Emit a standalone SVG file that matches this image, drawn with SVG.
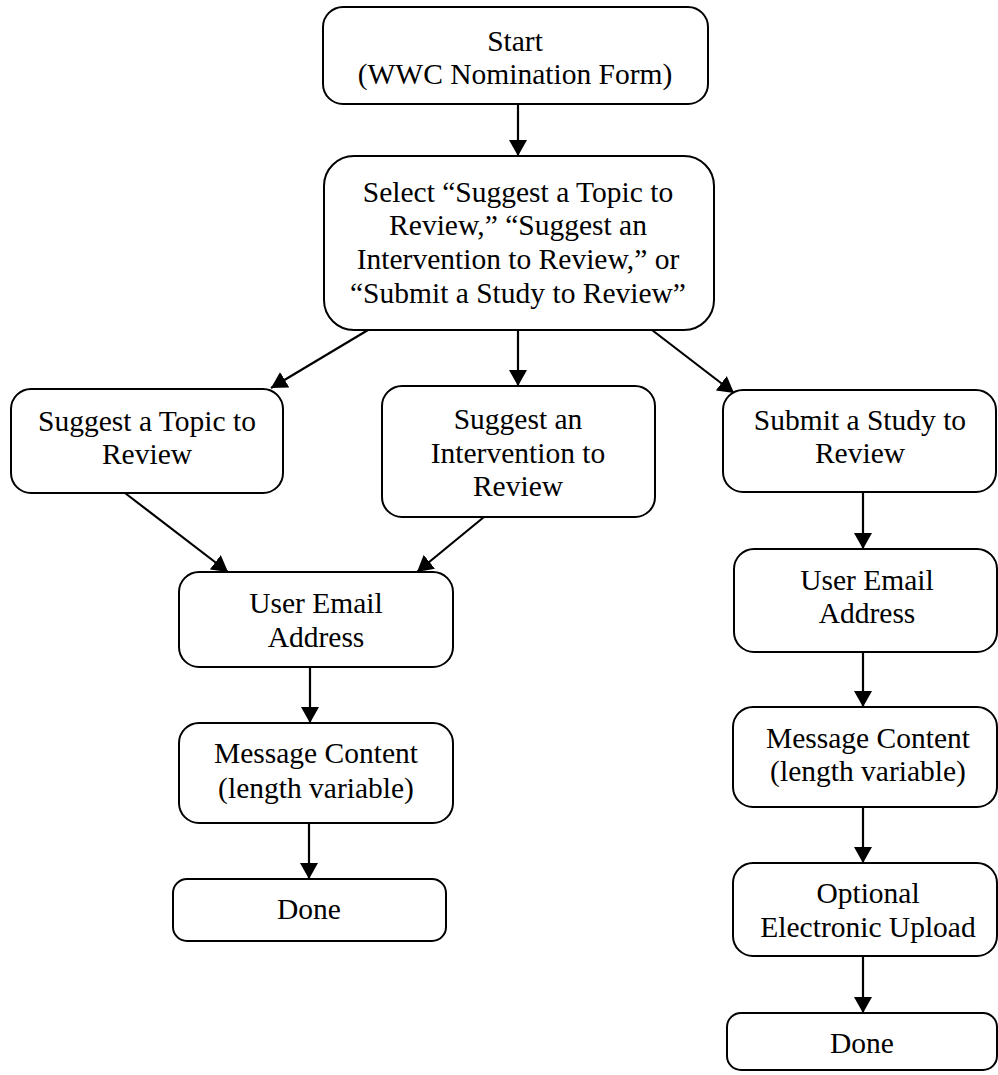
<svg xmlns="http://www.w3.org/2000/svg" width="998" height="1075" viewBox="0 0 998 1075">
<style>
.box{fill:#fff;stroke:#000;stroke-width:2}
.t{font-family:"Liberation Serif","Times New Roman",serif;font-size:29.5px;fill:#000;text-anchor:middle}
.c{stroke:#000;stroke-width:2.2;fill:none;marker-end:url(#ah)}
</style>
<defs>
<marker id="ah" markerUnits="userSpaceOnUse" markerWidth="17" markerHeight="18" refX="16" refY="9" orient="auto">
<path d="M0,0 L16,9 L0,18 Z" fill="#000"/>
</marker>
</defs>
<rect width="998" height="1075" fill="#fff"/>
<g id="connectors">
<line class="c" x1="518" y1="104" x2="518" y2="156"/>
<line class="c" x1="368" y1="330" x2="271" y2="388"/>
<line class="c" x1="518" y1="330" x2="518" y2="386"/>
<line class="c" x1="652" y1="330" x2="734" y2="393"/>
<line class="c" x1="125" y1="493" x2="228" y2="572"/>
<line class="c" x1="484" y1="517" x2="417" y2="572"/>
<line class="c" x1="310" y1="667" x2="310" y2="723"/>
<line class="c" x1="309" y1="823" x2="309" y2="879"/>
<line class="c" x1="863" y1="492" x2="863" y2="549"/>
<line class="c" x1="863" y1="652" x2="863" y2="707"/>
<line class="c" x1="863" y1="807" x2="863" y2="863"/>
<line class="c" x1="863" y1="956" x2="863" y2="1013"/>
</g>
<g id="start">
<rect class="box" x="323" y="7" width="385" height="97" rx="20"/>
<text class="t" x="515" y="51">Start</text>
<text class="t" x="515" y="84">(WWC Nomination Form)</text>
</g>
<g id="select">
<rect class="box" x="324" y="156" width="390" height="174" rx="30"/>
<text class="t" x="518" y="202">Select “Suggest a Topic to</text>
<text class="t" x="518" y="235">Review,” “Suggest an</text>
<text class="t" x="518" y="269">Intervention to Review,” or</text>
<text class="t" x="518" y="303">“Submit a Study to Review”</text>
</g>
<g id="topic">
<rect class="box" x="11" y="389" width="272" height="104" rx="20"/>
<text class="t" x="147" y="431">Suggest a Topic to</text>
<text class="t" x="147" y="464">Review</text>
</g>
<g id="intervention">
<rect class="box" x="382" y="386" width="273" height="131" rx="20"/>
<text class="t" x="518" y="429">Suggest an</text>
<text class="t" x="518" y="463">Intervention to</text>
<text class="t" x="518" y="496">Review</text>
</g>
<g id="submit">
<rect class="box" x="723" y="390" width="273" height="102" rx="20"/>
<text class="t" x="860" y="430">Submit a Study to</text>
<text class="t" x="860" y="463">Review</text>
</g>
<g id="email-left">
<rect class="box" x="179" y="572" width="274" height="95" rx="20"/>
<text class="t" x="316" y="613">User Email</text>
<text class="t" x="316" y="647">Address</text>
</g>
<g id="message-left">
<rect class="box" x="179" y="723" width="274" height="100" rx="20"/>
<text class="t" x="316" y="763">Message Content</text>
<text class="t" x="316" y="798">(length variable)</text>
</g>
<g id="done-left">
<rect class="box" x="173" y="879" width="273" height="62" rx="14"/>
<text class="t" x="309" y="919">Done</text>
</g>
<g id="email-right">
<rect class="box" x="734" y="549" width="263" height="103" rx="20"/>
<text class="t" x="867" y="590">User Email</text>
<text class="t" x="867" y="623">Address</text>
</g>
<g id="message-right">
<rect class="box" x="733" y="707" width="264" height="100" rx="20"/>
<text class="t" x="868" y="748">Message Content</text>
<text class="t" x="868" y="781">(length variable)</text>
</g>
<g id="optional">
<rect class="box" x="733" y="863" width="264" height="93" rx="20"/>
<text class="t" x="868" y="903">Optional</text>
<text class="t" x="868" y="937">Electronic Upload</text>
</g>
<g id="done-right">
<rect class="box" x="727" y="1013" width="270" height="57" rx="14"/>
<text class="t" x="862" y="1053">Done</text>
</g>
</svg>
